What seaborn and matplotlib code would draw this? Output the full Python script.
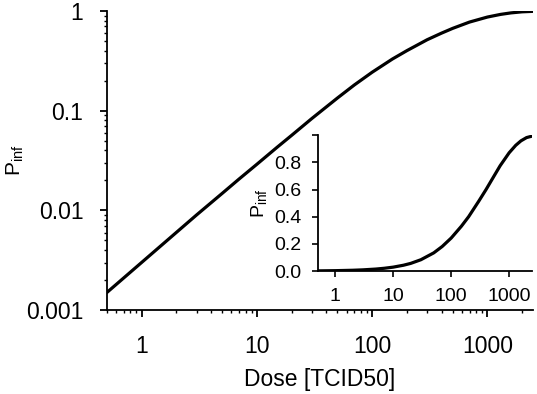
import numpy as np
import pandas as pd
import matplotlib
matplotlib.use("Agg")
import matplotlib.pyplot as plt
import matplotlib.ticker as mticker
import seaborn as sns

# dose-response values
dose = [0.5, 1, 2, 3, 5, 7, 10, 15, 20, 30, 50, 70, 100, 150, 200,
        300, 400, 500, 700, 1000, 1300, 1600, 2000, 2500]
p_inf = [0.0015, 0.003, 0.006, 0.009, 0.0148, 0.0206, 0.029, 0.043, 0.0565,
         0.0835, 0.134, 0.181, 0.243, 0.33, 0.40, 0.515, 0.60, 0.67, 0.775,
         0.87, 0.925, 0.958, 0.982, 0.993]

x_ticks = [1, 10, 100, 1000]
x_labels = ['1', '10', '100', '1000']
y_ticks_log = [0.001, 0.01, 0.1, 1]
y_labels_log = ['0.001', '0.01', '0.1', '1']
y_ticks_lin = [0.0, 0.2, 0.4, 0.6, 0.8, 1.0]
y_labels_lin = ['0.0', '0.2', '0.4', '0.6', '0.8', '']

df = pd.DataFrame({'dose': dose, 'p_inf': p_inf})

sns.set_theme(style='ticks')
plt.rcParams['font.family'] = ['Liberation Sans', 'DejaVu Sans']
plt.rcParams['mathtext.fontset'] = 'custom'
plt.rcParams['mathtext.rm'] = 'Liberation Sans'
plt.rcParams['axes.linewidth'] = 1.3
plt.rcParams['axes.edgecolor'] = 'black'
plt.rcParams['axes.labelcolor'] = 'black'
plt.rcParams['text.color'] = 'black'
plt.rcParams['xtick.color'] = 'black'
plt.rcParams['ytick.color'] = 'black'

fig = plt.figure(figsize=(5.37, 3.94), dpi=100)

## grafico principal log-log
ax = fig.add_axes([0.199, 0.213, 0.794, 0.759])
sns.lineplot(data=df, x='dose', y='p_inf', ax=ax, color='black', linewidth=2.3)
ax.set_xscale('log')
ax.set_yscale('log')
ax.set_xlim(0.5, 2500)
ax.set_ylim(0.001, 1)
ax.set_xticks(x_ticks)
ax.set_xticklabels(x_labels)
ax.set_yticks(y_ticks_log)
ax.set_yticklabels(y_labels_log)
ax.xaxis.set_minor_locator(mticker.LogLocator(base=10, subs=np.arange(2, 10)))
ax.yaxis.set_minor_locator(mticker.LogLocator(base=10, subs=np.arange(2, 10)))
ax.xaxis.set_minor_formatter(mticker.NullFormatter())
ax.yaxis.set_minor_formatter(mticker.NullFormatter())
ax.tick_params(which='major', length=5, width=1.3, labelsize=16.5)
ax.tick_params(axis='y', which='major', pad=12)
ax.tick_params(axis='x', which='major', pad=13)
ax.tick_params(which='minor', length=2.5, width=1.0)
ax.set_xlabel('Dose [TCID50]', fontsize=16.5, labelpad=7)
ax.set_ylabel(r'P$_{\mathrm{inf}}$', fontsize=15, labelpad=0)
sns.despine(ax=ax)

## inset linear
ax2 = fig.add_axes([0.592, 0.312, 0.399, 0.345])
sns.lineplot(data=df, x='dose', y='p_inf', ax=ax2, color='black', linewidth=2.3)
ax2.set_xscale('log')
ax2.set_xlim(0.5, 2500)
ax2.set_ylim(0, 1.0)
ax2.set_xticks(x_ticks)
ax2.set_xticklabels(x_labels)
ax2.set_yticks(y_ticks_lin)
ax2.set_yticklabels(y_labels_lin)
ax2.xaxis.set_minor_locator(mticker.LogLocator(base=10, subs=np.arange(2, 10)))
ax2.xaxis.set_minor_formatter(mticker.NullFormatter())
ax2.tick_params(which='major', length=4, width=1.2, labelsize=14, pad=8)
ax2.tick_params(which='minor', length=2, width=1.0)
ax2.set_xlabel('')
ax2.set_ylabel(r'P$_{\mathrm{inf}}$', fontsize=14, labelpad=3)
ax2.patch.set_alpha(0)
sns.despine(ax=ax2)

fig.savefig('out.png', dpi=100)
